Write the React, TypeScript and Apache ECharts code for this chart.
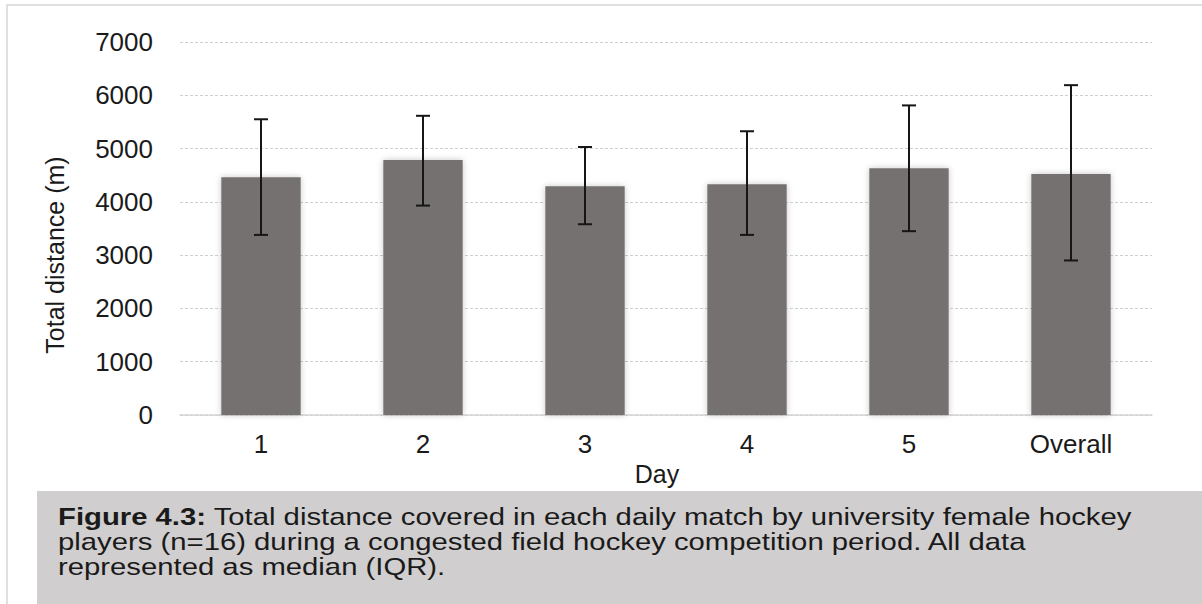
import React, { useEffect, useRef } from "react";
import * as echarts from "echarts";

// Daily match categories and total distance (m): median with interquartile range
const days = ["1", "2", "3", "4", "5", "Overall"];
const medianDistance = [4460, 4785, 4295, 4330, 4630, 4525];
const lowerQuartile = [3380, 3930, 3580, 3380, 3450, 2900];
const upperQuartile = [5550, 5615, 5030, 5325, 5810, 6190];

const yTicks = { min: 0, max: 7000, interval: 1000 };

const FONT = "'Liberation Sans', Arial, sans-serif";
const INK = "#1a1a1a";

const captionText =
  "{b|Figure 4.3:} Total distance covered in each daily match by university female hockey\n" +
  "players (n=16) during a congested field hockey competition period. All data\n" +
  "represented as median (IQR).";

export default function App() {
  const ref = useRef<HTMLDivElement>(null);

  useEffect(() => {
    if (!ref.current) return;
    const chart = echarts.init(ref.current, undefined, { renderer: "svg" });

    const iqrData = days.map((_, i) => [i, lowerQuartile[i], upperQuartile[i]]);

    chart.setOption({
      animation: false,
      backgroundColor: "#ffffff",
      grid: { left: 180, right: 50, top: 42, bottom: 189, containLabel: false },
      xAxis: {
        type: "category",
        data: days,
        name: "Day",
        nameLocation: "middle",
        nameGap: 43,
        nameTextStyle: {
          fontFamily: FONT,
          fontSize: 25,
          color: INK,
          padding: [0, 18, 0, 0],
        },
        axisLine: { show: true, lineStyle: { color: "#d4d4d4", width: 1.5 } },
        axisTick: { show: false },
        axisLabel: { fontFamily: FONT, fontSize: 26, color: INK, margin: 16 },
      },
      yAxis: {
        type: "value",
        min: yTicks.min,
        max: yTicks.max,
        interval: yTicks.interval,
        axisLine: { show: false },
        axisTick: { show: false },
        axisLabel: {
          fontFamily: FONT,
          fontSize: 26,
          color: INK,
          margin: 27,
          formatter: (v: number) => String(v),
        },
        splitLine: {
          show: true,
          lineStyle: { color: "#cfcfcf", width: 1.2, type: [3, 2] },
        },
      },
      series: [
        {
          type: "bar",
          data: medianDistance,
          barCategoryGap: "51%",
          itemStyle: {
            color: "#767171",
            shadowBlur: 6,
            shadowColor: "rgba(0,0,0,0.22)",
          },
          z: 2,
        },
        {
          type: "custom",
          data: iqrData,
          z: 3,
          renderItem: (params: any, api: any) => {
            const x = api.value(0);
            const lo = api.coord([x, api.value(1)]);
            const hi = api.coord([x, api.value(2)]);
            const half = 7;
            const style = { stroke: "#161616", lineWidth: 2 };
            return {
              type: "group",
              children: [
                { type: "line", shape: { x1: lo[0], y1: lo[1], x2: hi[0], y2: hi[1] }, style },
                { type: "line", shape: { x1: hi[0] - half, y1: hi[1], x2: hi[0] + half, y2: hi[1] }, style },
                { type: "line", shape: { x1: lo[0] - half, y1: lo[1], x2: lo[0] + half, y2: lo[1] }, style },
              ],
            };
          },
        },
      ],
      graphic: [
        {
          type: "rect",
          silent: true,
          z: -10,
          shape: { x: 7, y: 5, width: 1250, height: 700 },
          style: { fill: "none", stroke: "#d6d6d6", lineWidth: 1.5 },
        },
        {
          type: "rect",
          silent: true,
          z: -5,
          shape: { x: 37, y: 491, width: 1200, height: 150 },
          style: { fill: "#d0cece" },
        },
        {
          type: "text",
          x: 55,
          y: 255,
          rotation: Math.PI / 2,
          style: {
            text: "Total distance (m)",
            fontFamily: FONT,
            fontSize: 25,
            fill: INK,
            align: "center",
            verticalAlign: "middle",
          },
        },
        {
          type: "text",
          x: 58,
          y: 504,
          scaleX: 1.22,
          style: {
            text: captionText,
            fontFamily: FONT,
            fontSize: 24,
            lineHeight: 25,
            fill: INK,
            align: "left",
            verticalAlign: "top",
            rich: {
              b: { fontFamily: FONT, fontSize: 24, lineHeight: 25, fontWeight: "bold", fill: INK },
            },
          },
        },
      ],
    });

    return () => chart.dispose();
  }, []);

  return (
    <div
      ref={ref}
      style={{ position: "absolute", left: 0, top: 0, width: 1202, height: 604 }}
    />
  );
}
